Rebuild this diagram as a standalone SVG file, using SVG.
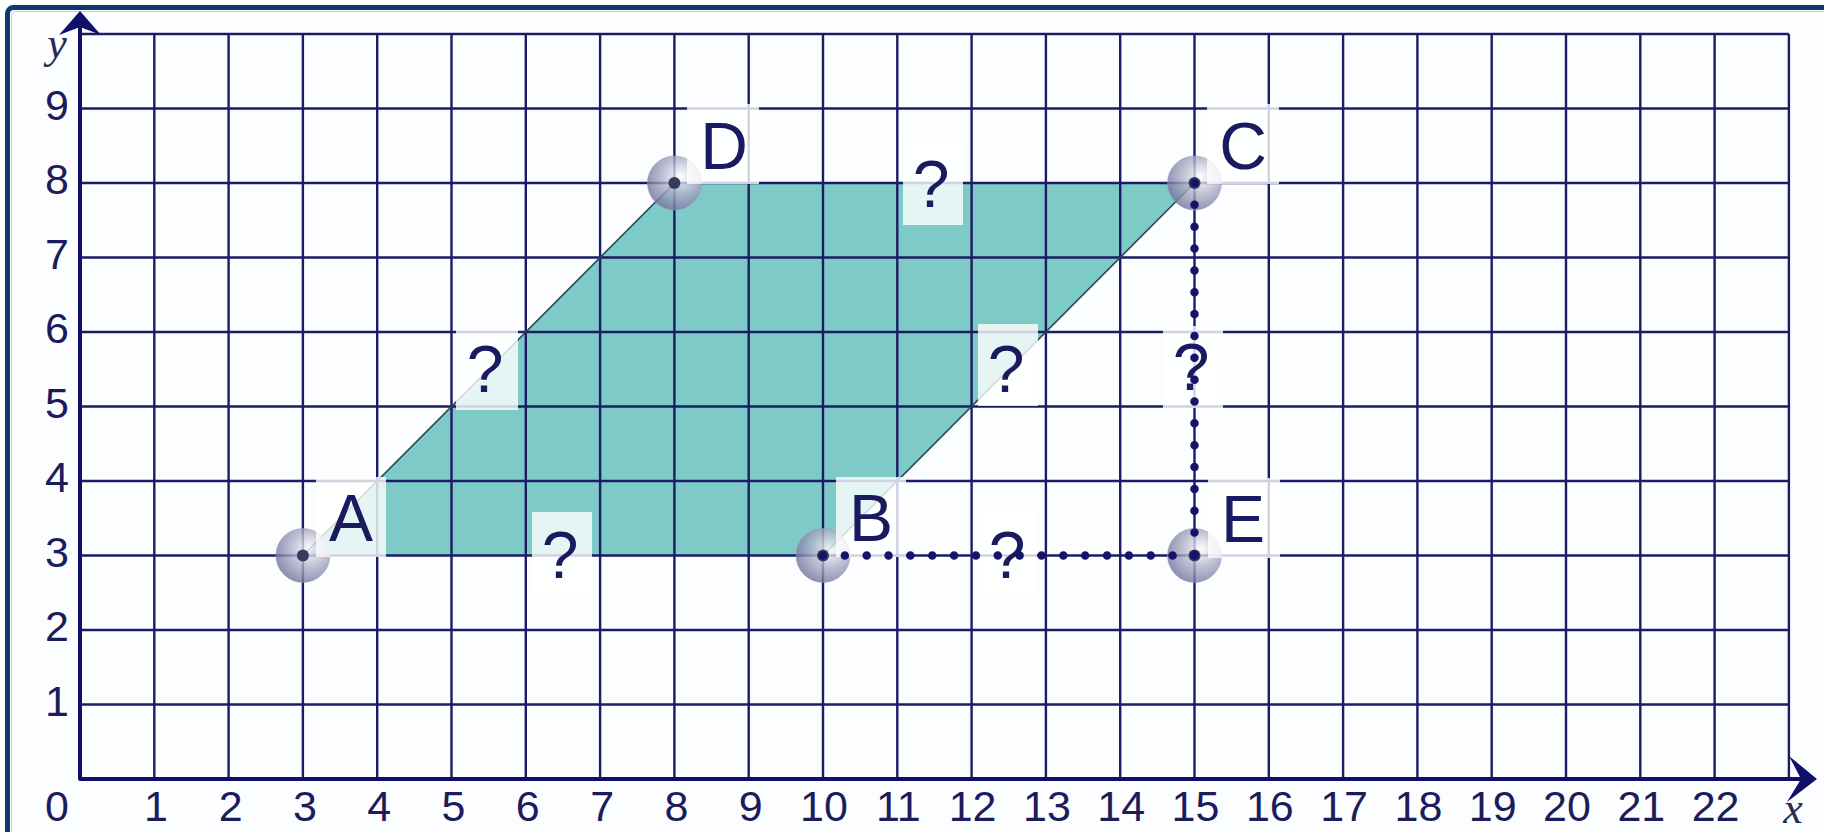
<svg xmlns="http://www.w3.org/2000/svg" width="1824" height="832" viewBox="0 0 1824 832">
<defs>
<radialGradient id="pt" cx="0.62" cy="0.38" r="0.7">
<stop offset="0" stop-color="#ffffff"/>
<stop offset="0.45" stop-color="#b4b4cc"/>
<stop offset="1" stop-color="#6a6a96"/>
</radialGradient>
<style>
.grid{stroke:#1c1c66;stroke-width:2.4;fill:none}
.axis{stroke:#10106a;stroke-width:4;fill:none;stroke-linejoin:round}
.arrow{fill:#10106a}
.tick{font-family:"Liberation Sans",Arial,sans-serif;font-size:43px;fill:#1c1c5c;text-anchor:middle}
.axl{font-family:"Liberation Serif","Times New Roman",serif;font-style:italic;font-size:44px;fill:#2a2a55;text-anchor:middle}
.lbl{font-family:"Liberation Sans",Arial,sans-serif;font-size:66px;fill:#1a1a60;text-anchor:middle}
.box{fill:#ffffff;fill-opacity:0.8}
.dots{stroke:#14146a;stroke-width:8.5;stroke-linecap:round;stroke-dasharray:0 21.85;fill:none}
.ptc{fill:url(#pt);fill-opacity:0.8;stroke:#9a9ab8;stroke-opacity:0.5;stroke-width:1}
.ptd{fill:#3a3a5e}
</style>
</defs>
<rect x="0" y="0" width="1824" height="832" fill="#ffffff"/>
<rect x="7.5" y="7.5" width="1900" height="900" rx="6" fill="#fbfdff" stroke="#0d3a6c" stroke-width="5"/>
<rect x="11.5" y="11.5" width="1900" height="900" rx="4" fill="none" stroke="#b8d0e8" stroke-width="1"/>

<g id="parallelogram">
<polygon points="302.9,555.5 823,555.5 1194.5,183 674.4,183" fill="#7ecac6"/>
</g>

<g id="grid">
<path class="grid" d="M154.3,34V779 M228.6,34V779 M302.9,34V779 M377.2,34V779 M451.5,34V779 M525.8,34V779 M600.1,34V779 M674.4,34V779 M748.7,34V779 M823,34V779 M897.3,34V779 M971.6,34V779 M1045.9,34V779 M1120.2,34V779 M1194.5,34V779 M1268.8,34V779 M1343.1,34V779 M1417.4,34V779 M1491.7,34V779 M1566,34V779 M1640.3,34V779 M1714.6,34V779 M1788.9,34V779 M80,704.5H1788.9 M80,630H1788.9 M80,555.5H1788.9 M80,481H1788.9 M80,406.5H1788.9 M80,332H1788.9 M80,257.5H1788.9 M80,183H1788.9 M80,108.5H1788.9 M80,34H1788.9"/>
</g>

<g id="edges">
<line x1="302.9" y1="555.5" x2="674.4" y2="183" stroke="#24485a" stroke-width="1.6"/>
<line x1="823" y1="555.5" x2="1194.5" y2="183" stroke="#24485a" stroke-width="1.6"/>
</g>

<g id="axes">
<path class="axis" d="M80,16V779H1812"/>
<polygon class="arrow" points="80,11 101,35 80,27 59,35"/>
<polygon class="arrow" points="1817,779 1789,756 1801,779 1787,802"/>
<text class="axl" x="57" y="58">y</text>
<text class="axl" x="1793" y="823">x</text>
</g>

<g id="ticks">
<text class="tick" x="57" y="821">0</text>
<text class="tick" x="156" y="821">1</text>
<text class="tick" x="230.6" y="821">2</text>
<text class="tick" x="304.9" y="821">3</text>
<text class="tick" x="379.2" y="821">4</text>
<text class="tick" x="453.5" y="821">5</text>
<text class="tick" x="527.8" y="821">6</text>
<text class="tick" x="602.1" y="821">7</text>
<text class="tick" x="676.4" y="821">8</text>
<text class="tick" x="750.7" y="821">9</text>
<text class="tick" x="824" y="821">10</text>
<text class="tick" x="898.3" y="821">11</text>
<text class="tick" x="972.6" y="821">12</text>
<text class="tick" x="1046.9" y="821">13</text>
<text class="tick" x="1121.2" y="821">14</text>
<text class="tick" x="1195.5" y="821">15</text>
<text class="tick" x="1269.8" y="821">16</text>
<text class="tick" x="1344.1" y="821">17</text>
<text class="tick" x="1418.4" y="821">18</text>
<text class="tick" x="1492.7" y="821">19</text>
<text class="tick" x="1567" y="821">20</text>
<text class="tick" x="1641.3" y="821">21</text>
<text class="tick" x="1715.6" y="821">22</text>
<text class="tick" x="57" y="715.5">1</text>
<text class="tick" x="57" y="641">2</text>
<text class="tick" x="57" y="566.5">3</text>
<text class="tick" x="57" y="492">4</text>
<text class="tick" x="57" y="417.5">5</text>
<text class="tick" x="57" y="343">6</text>
<text class="tick" x="57" y="268.5">7</text>
<text class="tick" x="57" y="194">8</text>
<text class="tick" x="57" y="119.5">9</text>
</g>

<g id="point-A"><circle class="ptc" cx="302.9" cy="555.5" r="27"/><circle class="ptd" cx="302.9" cy="555.5" r="6"/></g>
<g id="point-B"><circle class="ptc" cx="823" cy="555.5" r="27"/><circle class="ptd" cx="823" cy="555.5" r="6"/></g>
<g id="point-C"><circle class="ptc" cx="1194.5" cy="183" r="27"/><circle class="ptd" cx="1194.5" cy="183" r="6"/></g>
<g id="point-D"><circle class="ptc" cx="674.4" cy="183" r="27"/><circle class="ptd" cx="674.4" cy="183" r="6"/></g>
<g id="point-E"><circle class="ptc" cx="1194.5" cy="555.5" r="27"/><circle class="ptd" cx="1194.5" cy="555.5" r="6"/></g>

<g id="label-A"><rect class="box" x="316" y="477" width="70" height="80"/><text class="lbl" x="351" y="541">A</text></g>
<g id="label-B"><rect class="box" x="836" y="477" width="70" height="80"/><text class="lbl" x="871" y="541">B</text></g>
<g id="label-C"><rect class="box" x="1207" y="104" width="72" height="80"/><text class="lbl" x="1243" y="169">C</text></g>
<g id="label-D"><rect class="box" x="687" y="104" width="72" height="80"/><text class="lbl" x="724" y="169">D</text></g>
<g id="label-E"><rect class="box" x="1208" y="478" width="72" height="80"/><text class="lbl" x="1243" y="542">E</text></g>

<g id="label-AB"><rect class="box" x="532" y="512" width="60" height="82"/><text class="lbl" x="560" y="578">?</text></g>
<g id="label-DC"><rect class="box" x="903" y="141" width="60" height="84"/><text class="lbl" x="931" y="207">?</text></g>
<g id="label-AD"><rect class="box" x="456" y="330" width="62" height="80"/><text class="lbl" x="485" y="392">?</text></g>
<g id="label-BC"><rect class="box" x="978" y="324" width="60" height="82"/><text class="lbl" x="1006" y="392">?</text></g>
<g id="label-CE"><rect class="box" x="1163" y="326" width="60" height="82"/><text class="lbl" x="1191" y="390">?</text></g>
<g id="label-BE"><rect class="box" x="977" y="512" width="60" height="82"/><text class="lbl" x="1007" y="578">?</text></g>

<g id="connectors">
<line class="dots" x1="823" y1="555.5" x2="1194.5" y2="555.5"/>
<line class="dots" x1="1194.5" y1="183" x2="1194.5" y2="555.5"/>
</g>
</svg>
